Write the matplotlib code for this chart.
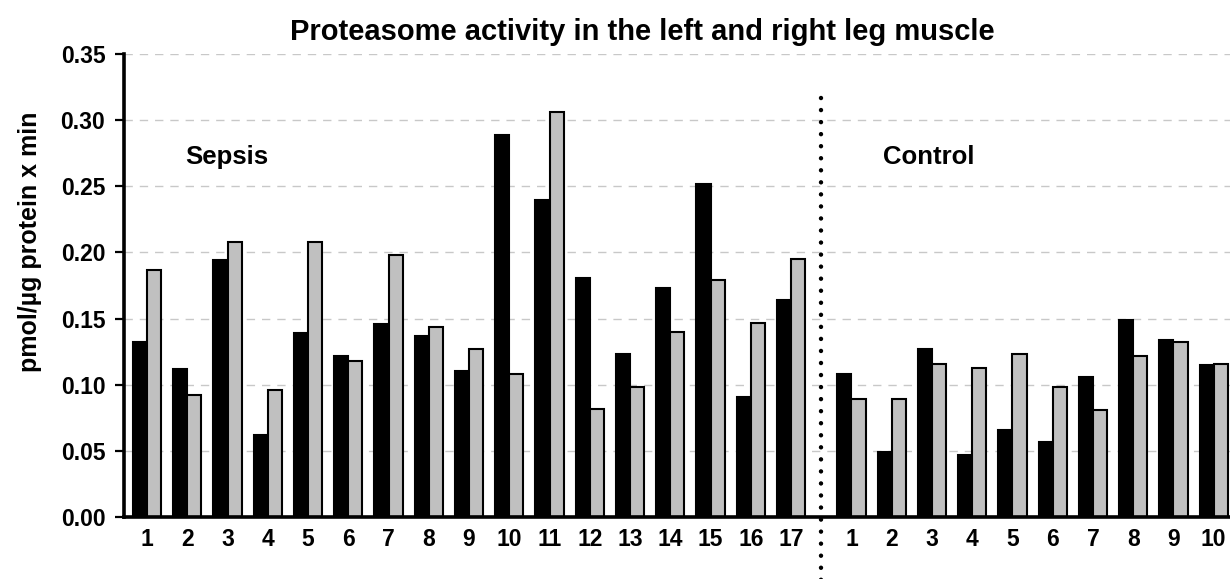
import numpy as np
import matplotlib
matplotlib.use("Agg")
import matplotlib.pyplot as plt
import matplotlib.transforms as mtransforms

# ---- data ----
sepsis_labels = [str(i) for i in range(1, 18)]
control_labels = [str(i) for i in range(1, 11)]
sepsis_left = [0.132, 0.112, 0.194, 0.062, 0.139, 0.122, 0.146, 0.137, 0.110, 0.289,
               0.240, 0.181, 0.123, 0.173, 0.252, 0.091, 0.164]
sepsis_right = [0.187, 0.092, 0.208, 0.096, 0.208, 0.118, 0.198, 0.144, 0.127, 0.108,
                0.306, 0.082, 0.098, 0.140, 0.179, 0.147, 0.195]
control_left = [0.108, 0.049, 0.127, 0.047, 0.066, 0.057, 0.106, 0.149, 0.134, 0.115]
control_right = [0.089, 0.089, 0.116, 0.113, 0.123, 0.098, 0.081, 0.122, 0.132, 0.116]
yticks = [0.00, 0.05, 0.10, 0.15, 0.20, 0.25, 0.30, 0.35]

plt.rcParams['font.family'] = ['Liberation Sans', 'DejaVu Sans']
plt.rcParams['font.weight'] = 'bold'

fig = plt.figure(figsize=(12.3, 5.79), dpi=100)
ax = fig.add_axes([124/1230, 1 - 517/579, 1 - 124/1230, (517 - 54)/579])

xs = np.arange(len(sepsis_labels), dtype=float)
xc = len(sepsis_labels) + 0.5 + np.arange(len(control_labels), dtype=float)
x_all = np.concatenate([xs, xc])
left_all = sepsis_left + control_left
right_all = sepsis_right + control_right
labels_all = sepsis_labels + control_labels

w = 0.35
ax.bar(x_all - w/2, left_all, width=w, color='black', edgecolor='black', linewidth=1.5, zorder=3)
ax.bar(x_all + w/2, right_all, width=w, color='#c0c0c0', edgecolor='black', linewidth=1.5, zorder=3)

ax.set_ylim(0, 0.35)
ax.set_xlim(-0.572, x_all[-1] + 0.405)
ax.set_yticks(yticks)
ax.set_yticklabels([f"{v:.2f}" for v in yticks], fontsize=16.5, fontweight='bold')
ax.set_xticks(x_all)
ax.set_xticklabels(labels_all, fontsize=16.5, fontweight='bold')
ax.tick_params(axis='x', length=0, pad=8)
ax.tick_params(axis='y', direction='out', length=6.5, width=1.6, pad=7)

ax.yaxis.grid(True, color='#c8c8c8', linestyle=(0, (6, 5)), linewidth=1.0, zorder=0)
ax.set_axisbelow(True)

for s in ['top', 'right']:
    ax.spines[s].set_visible(False)
ax.spines['left'].set_linewidth(2.6)
ax.spines['bottom'].set_linewidth(2.6)
ax.spines['bottom'].set_zorder(4)

# dotted separator
sep_x = (xs[-1] + xc[0]) / 2
trans = mtransforms.blended_transform_factory(ax.transData, ax.transAxes)
ax.plot([sep_x, sep_x], [0.905, -0.135], transform=trans, color='black',
        linewidth=3.2, linestyle=(0, (0.01, 2.7)), dash_capstyle='round',
        clip_on=False, zorder=5)

ax.text(185/1230, 1 - 157/579, 'Sepsis', transform=fig.transFigure,
        fontsize=18.5, fontweight='bold', ha='left', va='center')
ax.text(883/1230, 1 - 157/579, 'Control', transform=fig.transFigure,
        fontsize=18.5, fontweight='bold', ha='left', va='center')

fig.text(642/1230, 1 - 32/579, 'Proteasome activity in the left and right leg muscle',
         fontsize=21, fontweight='bold', ha='center', va='center')
fig.text(30/1230, 1 - 242/579, 'pmol/µg protein x min', rotation=90,
         fontsize=18, fontweight='bold', ha='center', va='center')

fig.savefig('out.png', dpi=100)
